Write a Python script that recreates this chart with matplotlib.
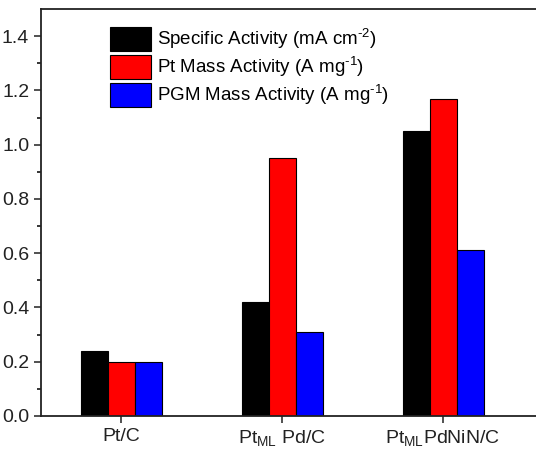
import numpy as np
import matplotlib as mpl
import matplotlib.pyplot as plt

mpl.rcParams['font.family'] = 'Liberation Sans'
mpl.rcParams['mathtext.fontset'] = 'custom'
mpl.rcParams['mathtext.rm'] = 'Liberation Sans'
mpl.rcParams['mathtext.it'] = 'Liberation Sans:italic'

catalysts = ['Pt/C', r'Pt$_{\mathrm{ML}}$ Pd/C', r'Pt$_{\mathrm{ML}}$PdNiN/C']
specific = [0.24, 0.42, 1.05]
pt_mass = [0.20, 0.95, 1.17]
pgm_mass = [0.20, 0.31, 0.61]

labels = [r'Specific Activity (mA cm$^{\text{-}2}$)',
          r'Pt Mass Activity (A mg$^{\text{-}1}$)',
          r'PGM Mass Activity (A mg$^{\text{-}1}$)']
colors = ['#000000', '#ff0000', '#0000ff']

fig = plt.figure(figsize=(5.36, 4.5), dpi=100)
ax = fig.add_axes([41/536, 1-416/450, 1-41/536, (416-9)/450])

x = np.arange(len(catalysts))
w = 0.168
for k, (vals, lab, c) in enumerate(zip([specific, pt_mass, pgm_mass], labels, colors)):
    ax.bar(x + (k-1)*w, vals, w, color=c, edgecolor='k', linewidth=0.8, label=lab)

ax.set_xlim(-0.5, 2.578)
ax.set_ylim(0, 1.5)
ax.set_yticks(np.arange(0, 1.41, 0.2))
ax.set_yticks(np.arange(0.1, 1.5, 0.2), minor=True)
ax.set_xticks(x)
ax.set_xticklabels(catalysts)
ax.tick_params(axis='both', labelsize=14, direction='out', width=1.1, length=5, colors='#222222')
ax.tick_params(axis='y', which='minor', direction='out', width=1.1, length=3)
ax.tick_params(axis='x', which='minor', bottom=False)
ax.set_yticklabels(["{0:.1f}".format(v) for v in np.arange(0, 1.41, 0.2)])
for s in ['left', 'bottom', 'top']:
    ax.spines[s].set_linewidth(1.3)
    ax.spines[s].set_color('#222222')
ax.spines['right'].set_visible(False)

ax.legend(loc='upper left', bbox_to_anchor=(110/536, 1-27/450),
          bbox_transform=fig.transFigure, frameon=False, fontsize=13.5,
          handlelength=2.2, handleheight=1.6, labelspacing=0.2,
          handletextpad=0.3, borderpad=0, borderaxespad=0)

plt.savefig('out.png', dpi=100)
